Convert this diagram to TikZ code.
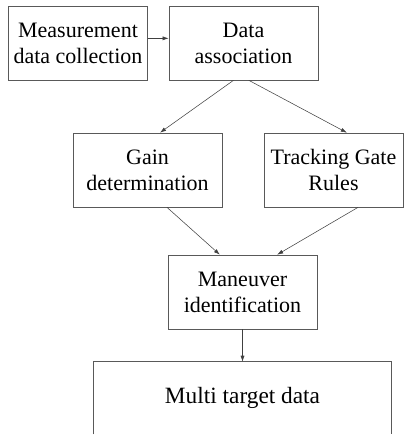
\documentclass[tikz,border=0pt]{standalone}
\usepackage{fontspec}
\setmainfont{LiberationSerif}[Extension=.ttf, UprightFont=*-Regular, BoldFont=*-Bold]
\usetikzlibrary{arrows.meta,positioning}

\begin{document}
\begin{tikzpicture}[
        x=0.75pt, y=-0.75pt,
        font=\rmfamily\fontsize{16.5}{19.5}\selectfont,
        >=Latex,
        stage/.style={draw=black!65, line width=0.5pt, align=center, minimum width=111.75pt, minimum height=55.5pt, inner sep=2pt},
        narrow/.style={stage, minimum width=104pt},
        link/.style={draw=black!75, line width=0.4pt, -{Latex[length=4.5pt,width=3pt]}}
    ]
        \useasboundingbox (0,0) rectangle (404,435);
        \node[narrow] (meas) at (78,43) {Measurement\\data collection};
        \node[stage, right=15.75pt of meas] (assoc) {Data\\association};
        \node[stage] (gain) at (147.5,170) {Gain\\determination};
        \node[narrow] (gate) at (333.5,170) {Tracking Gate\\Rules};
        \node[stage] (maneuver) at (242.5,292) {Maneuver\\identification};
        \node[minimum width=222.75pt, minimum height=54pt, inner sep=0pt] (multi) at (242.5,398) {\fontsize{17.5}{20}\selectfont Multi target data};
        \draw[draw=black!65, line width=0.5pt] (multi.south west) -- (multi.north west) -- (multi.north east) -- (multi.south east);

        \draw[link] ([yshift=3.5pt]meas.east) -- ([yshift=3.5pt]assoc.west);
        \draw[link] ([xshift=-7.5pt]assoc.south) -- ([xshift=9.4pt]gain.north);
        \draw[link] ([xshift=4pt]assoc.south) -- ([xshift=10pt]gate.north);
        \draw[link] ([xshift=14.6pt]gain.south) -- ([xshift=-17pt]maneuver.north);
        \draw[link] ([xshift=18.4pt]gate.south) -- ([xshift=26pt]maneuver.north);
        \draw[link] (maneuver) -- (multi.north);
    \end{tikzpicture}
\end{document}
